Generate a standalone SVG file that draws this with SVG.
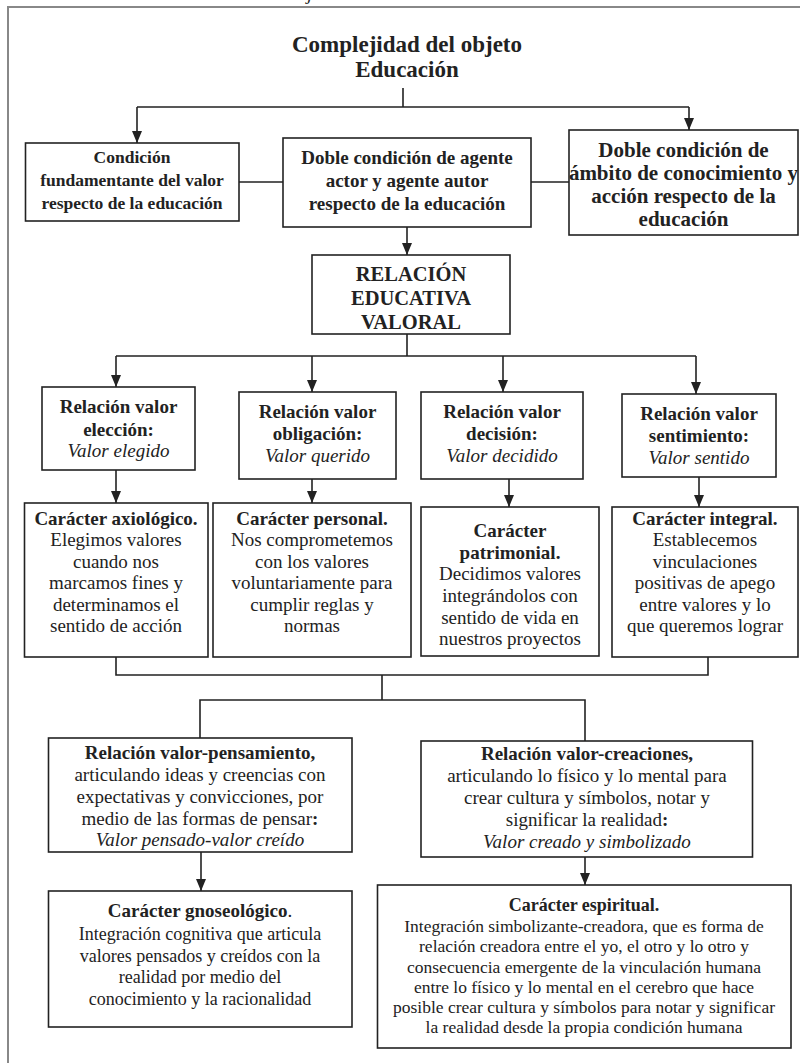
<svg xmlns="http://www.w3.org/2000/svg" width="800" height="1063" viewBox="0 0 800 1063" font-family="'Liberation Serif', 'DejaVu Serif', serif">
<style>
text{font-family:'Liberation Serif','DejaVu Serif',serif;fill:#222;text-anchor:middle}
.b{font-weight:bold}
.i{font-style:italic}
.box{fill:#fff;stroke:#222;stroke-width:1.6}
.ln{fill:none;stroke:#222;stroke-width:1.6}
.t23{font-size:23px}.t21{font-size:21px}.t20{font-size:20.5px}.t19{font-size:19px}.t18{font-size:18px}.t17{font-size:17.5px}
</style>
<defs>
<marker id="ah" viewBox="0 0 12 10" refX="12" refY="5" markerWidth="12" markerHeight="10" markerUnits="userSpaceOnUse" orient="auto">
<path d="M0,0 L12,5 L0,10 z" fill="#222"/>
</marker>
</defs>
<rect width="800" height="1063" fill="#fff"/>
<text class="i t19" x="310" y="0">j</text>
<path d="M8,1063 V7 H800" fill="none" stroke="#888" stroke-width="2"/>

<g id="connectors" class="ln">
<path d="M403,88 V107 M137,107 H689"/>
<path d="M137,107 V143" marker-end="url(#ah)"/>
<path d="M689,107 V130" marker-end="url(#ah)"/>
<path d="M239,182 H283 M531,182 H569"/>
<path d="M407,227 V255" marker-end="url(#ah)"/>
<path d="M407,334 V356 M116,356 H696"/>
<path d="M116,356 V387" marker-end="url(#ah)"/>
<path d="M312,356 V392" marker-end="url(#ah)"/>
<path d="M503,356 V392" marker-end="url(#ah)"/>
<path d="M696,356 V394" marker-end="url(#ah)"/>
<path d="M116,470 V503" marker-end="url(#ah)"/>
<path d="M312,479 V503" marker-end="url(#ah)"/>
<path d="M509,479 V507" marker-end="url(#ah)"/>
<path d="M699,477 V507" marker-end="url(#ah)"/>
<path d="M116,657 V675 H708 V657 M382,675 V700 M200,738 V700 H585 V741"/>
<path d="M201,852 V891" marker-end="url(#ah)"/>
<path d="M585,857 V885" marker-end="url(#ah)"/>
</g>

<g id="title">
<text class="b t23" x="407" y="52">Complejidad del objeto</text>
<text class="b t23" x="407" y="77">Educación</text>
</g>

<g id="condicion">
<rect class="box" x="25.5" y="143" width="213.5" height="78"/>
<text class="b t17" x="132" y="163">Condición</text>
<text class="b t17" x="132" y="186">fundamentante del valor</text>
<text class="b t17" x="132" y="209">respecto de la educación</text>
</g>

<g id="doble-agente">
<rect class="box" x="283" y="138" width="248" height="89"/>
<text class="b t19" x="407" y="164">Doble condición de agente</text>
<text class="b t19" x="407" y="187">actor y agente autor</text>
<text class="b t19" x="407" y="210">respecto de la educación</text>
</g>

<g id="doble-ambito">
<rect class="box" x="569" y="130" width="229" height="105"/>
<text class="b t21" x="683.5" y="157">Doble condición de</text>
<text class="b t21" x="683.5" y="180">ámbito de conocimiento y</text>
<text class="b t21" x="683.5" y="203">acción respecto de la</text>
<text class="b t21" x="683.5" y="226">educación</text>
</g>

<g id="relacion-educativa">
<rect class="box" x="312" y="255" width="198" height="79"/>
<text class="b t20" x="411" y="281">RELACIÓN</text>
<text class="b t20" x="411" y="305">EDUCATIVA</text>
<text class="b t20" x="411" y="329">VALORAL</text>
</g>

<g id="rel-eleccion">
<rect class="box" x="42" y="387" width="153" height="83"/>
<text class="b t19" x="118.5" y="413">Relación valor</text>
<text class="b t19" x="118.5" y="436">elección:</text>
<text class="i t19" x="118.5" y="457">Valor elegido</text>
</g>

<g id="rel-obligacion">
<rect class="box" x="239" y="392" width="157" height="87"/>
<text class="b t19" x="317.5" y="418">Relación valor</text>
<text class="b t19" x="317.5" y="440">obligación:</text>
<text class="i t19" x="317.5" y="462">Valor querido</text>
</g>

<g id="rel-decision">
<rect class="box" x="421" y="392" width="162" height="87"/>
<text class="b t19" x="502" y="418">Relación valor</text>
<text class="b t19" x="502" y="440">decisión:</text>
<text class="i t19" x="502" y="462">Valor decidido</text>
</g>

<g id="rel-sentimiento">
<rect class="box" x="622" y="394" width="154" height="83"/>
<text class="b t19" x="699" y="420">Relación valor</text>
<text class="b t19" x="699" y="442">sentimiento:</text>
<text class="i t19" x="699" y="464">Valor sentido</text>
</g>

<g id="car-axiologico">
<rect class="box" x="24.5" y="503" width="183.5" height="154"/>
<text class="b t19" x="116" y="525">Carácter axiológico.</text>
<text class="t19" x="116" y="546">Elegimos valores</text>
<text class="t19" x="116" y="568">cuando nos</text>
<text class="t19" x="116" y="589">marcamos fines y</text>
<text class="t19" x="116" y="611">determinamos el</text>
<text class="t19" x="116" y="632">sentido de acción</text>
</g>

<g id="car-personal">
<rect class="box" x="213" y="503" width="198" height="154"/>
<text class="b t19" x="312" y="525">Carácter personal.</text>
<text class="t19" x="312" y="546">Nos comprometemos</text>
<text class="t19" x="312" y="568">con los valores</text>
<text class="t19" x="312" y="589">voluntariamente para</text>
<text class="t19" x="312" y="611">cumplir reglas y</text>
<text class="t19" x="312" y="632">normas</text>
</g>

<g id="car-patrimonial">
<rect class="box" x="421" y="507" width="178" height="149"/>
<text class="b t19" x="510" y="537">Carácter</text>
<text class="b t19" x="510" y="559">patrimonial.</text>
<text class="t19" x="510" y="580">Decidimos valores</text>
<text class="t19" x="510" y="602">integrándolos con</text>
<text class="t19" x="510" y="624">sentido de vida en</text>
<text class="t19" x="510" y="645">nuestros proyectos</text>
</g>

<g id="car-integral">
<rect class="box" x="612" y="507" width="186" height="150"/>
<text class="b t19" x="705" y="525">Carácter integral.</text>
<text class="t19" x="705" y="546">Establecemos</text>
<text class="t19" x="705" y="568">vinculaciones</text>
<text class="t19" x="705" y="589">positivas de apego</text>
<text class="t19" x="705" y="611">entre valores y lo</text>
<text class="t19" x="705" y="632">que queremos lograr</text>
</g>

<g id="rel-pensamiento">
<rect class="box" x="48.5" y="738" width="303.5" height="114"/>
<text class="b t19" x="200" y="759">Relación valor-pensamiento,</text>
<text class="t19" x="200" y="781">articulando ideas y creencias con</text>
<text class="t19" x="200" y="803">expectativas y convicciones, por</text>
<text class="t19" x="200" y="825">medio de las formas de pensar<tspan class="b">:</tspan></text>
<text class="i t19" x="200" y="846">Valor pensado-valor creído</text>
</g>

<g id="rel-creaciones">
<rect class="box" x="421" y="741" width="331.5" height="116"/>
<text class="b t19" x="587" y="760">Relación valor-creaciones,</text>
<text class="t19" x="587" y="782">articulando lo físico y lo mental para</text>
<text class="t19" x="587" y="804">crear cultura y símbolos, notar y</text>
<text class="t19" x="587" y="826">significar la realidad<tspan class="b">:</tspan></text>
<text class="i t19" x="587" y="848">Valor creado y simbolizado</text>
</g>

<g id="car-gnoseologico">
<rect class="box" x="48.5" y="891" width="303.5" height="136"/>
<text class="t19" x="200" y="917"><tspan class="b">Carácter gnoseológico</tspan>.</text>
<text class="t18" x="200" y="940">Integración cognitiva que articula</text>
<text class="t18" x="200" y="962">valores pensados y creídos con la</text>
<text class="t18" x="200" y="983">realidad por medio del</text>
<text class="t18" x="200" y="1005">conocimiento y la racionalidad</text>
</g>

<g id="car-espiritual">
<rect class="box" x="377.5" y="885" width="413.5" height="163"/>
<text class="b t18" x="584" y="911">Carácter espiritual.</text>
<text class="t17" x="584" y="932">Integración simbolizante-creadora, que es forma de</text>
<text class="t17" x="584" y="952">relación creadora entre el yo, el otro y lo otro y</text>
<text class="t17" x="584" y="973">consecuencia emergente de la vinculación humana</text>
<text class="t17" x="584" y="993">entre lo físico y lo mental en el cerebro que hace</text>
<text class="t17" x="584" y="1013">posible crear cultura y símbolos para notar y significar</text>
<text class="t17" x="584" y="1033">la realidad desde la propia condición humana</text>
</g>
</svg>
